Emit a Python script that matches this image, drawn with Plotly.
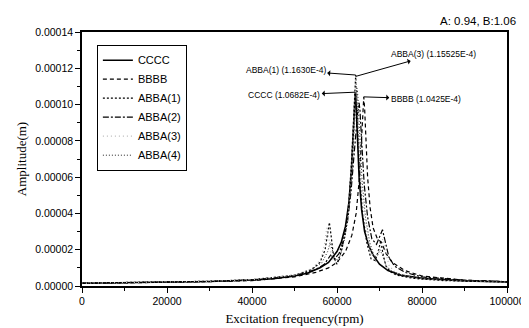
import plotly.graph_objects as go

SCALE = 1e-5  # amplitudes below are given in units of 1e-5 m

freq_cccc = [0, 10000, 20000, 30000, 40000, 45000, 50000, 53000, 56000, 58000, 60000, 61000, 62000, 62800, 63400, 63800, 64100, 64300, 64500, 64800, 65200, 65800, 66500, 67500, 68500, 70000, 72000, 75000, 80000, 90000, 100000]
amp_cccc = [0.15, 0.17, 0.2, 0.25, 0.33, 0.4, 0.55, 0.7, 1.0, 1.3, 1.9, 2.4, 3.3, 4.6, 6.4, 8.4, 10.0, 10.682, 10.0, 8.2, 6.0, 4.2, 3.0, 2.2, 1.7, 1.2, 0.85, 0.6, 0.42, 0.28, 0.22]

freq_bbbb = [0, 10000, 20000, 30000, 40000, 50000, 55000, 58000, 60000, 62000, 63500, 64500, 65300, 65800, 66100, 66300, 66500, 66800, 67200, 67800, 68500, 69500, 70500, 71500, 73000, 76000, 80000, 90000, 100000]
amp_bbbb = [0.14, 0.16, 0.19, 0.24, 0.3, 0.5, 0.75, 1.0, 1.3, 1.9, 2.8, 4.0, 6.0, 8.0, 9.6, 10.425, 9.8, 8.0, 6.0, 4.3, 3.2, 2.6, 2.4, 1.8, 1.3, 0.85, 0.55, 0.32, 0.24]

freq_abba1 = [0, 10000, 20000, 30000, 40000, 50000, 54000, 56000, 57200, 57800, 58200, 58600, 59200, 60000, 61000, 62000, 62800, 63400, 63900, 64200, 64400, 64600, 64900, 65400, 66000, 67000, 68000, 69000, 69800, 70300, 70800, 71500, 72500, 74000, 78000, 85000, 100000]
amp_abba1 = [0.16, 0.18, 0.21, 0.26, 0.35, 0.6, 0.9, 1.3, 2.0, 2.9, 3.5, 2.8, 1.6, 1.2, 1.9, 3.0, 4.6, 6.8, 9.3, 11.0, 11.63, 10.8, 8.6, 6.0, 4.0, 2.4, 1.5, 1.4, 2.0, 2.5, 1.8, 1.1, 0.8, 0.6, 0.42, 0.3, 0.22]

freq_abba2 = [0, 10000, 20000, 30000, 40000, 50000, 55000, 57000, 58500, 59500, 60500, 61500, 62500, 63300, 64000, 64600, 65000, 65200, 65400, 65800, 66400, 67200, 68200, 69300, 70200, 70700, 71300, 72200, 73500, 76000, 80000, 90000, 100000]
amp_abba2 = [0.15, 0.17, 0.2, 0.25, 0.32, 0.55, 0.9, 1.2, 1.7, 1.5, 1.8, 2.5, 3.6, 5.2, 7.2, 9.0, 9.9, 10.1, 9.7, 8.0, 5.6, 3.8, 2.6, 2.3, 2.8, 3.1, 2.5, 1.6, 1.1, 0.75, 0.5, 0.32, 0.24]

freq_abba3 = [0, 10000, 20000, 30000, 40000, 50000, 54000, 56000, 57000, 57600, 58100, 58700, 59500, 60500, 61500, 62500, 63200, 63800, 64200, 64400, 64600, 65000, 65600, 66300, 67200, 68300, 69400, 70200, 70800, 71400, 72300, 74000, 78000, 85000, 100000]
amp_abba3 = [0.16, 0.18, 0.21, 0.26, 0.35, 0.6, 0.95, 1.4, 2.2, 3.2, 2.6, 1.6, 1.3, 1.5, 2.3, 3.6, 5.5, 8.0, 10.5, 11.5525, 11.0, 8.8, 6.0, 4.0, 2.6, 1.7, 1.6, 2.2, 2.6, 1.9, 1.1, 0.7, 0.45, 0.3, 0.22]

freq_abba4 = [0, 10000, 20000, 30000, 40000, 50000, 54000, 56500, 57800, 58400, 59000, 59800, 60800, 61800, 62700, 63500, 64100, 64500, 64700, 64900, 65300, 65900, 66700, 67700, 68800, 69600, 70100, 70700, 71600, 73000, 76000, 82000, 100000]
amp_abba4 = [0.15, 0.17, 0.2, 0.25, 0.34, 0.58, 0.9, 1.3, 1.9, 2.4, 1.9, 1.4, 1.7, 2.6, 4.0, 6.2, 8.8, 10.4, 10.9, 10.5, 8.6, 5.8, 3.8, 2.4, 1.6, 1.7, 2.0, 1.7, 1.1, 0.8, 0.55, 0.38, 0.22]

series_names = ["CCCC", "BBBB", "ABBA(1)", "ABBA(2)", "ABBA(3)", "ABBA(4)"]
series_x = [freq_cccc, freq_bbbb, freq_abba1, freq_abba2, freq_abba3, freq_abba4]
series_y = [amp_cccc, amp_bbbb, amp_abba1, amp_abba2, amp_abba3, amp_abba4]
series_style = [
    dict(color="black", width=1.6, dash="solid"),
    dict(color="black", width=1.2, dash="4px,3px"),
    dict(color="black", width=1.2, dash="2px,2px"),
    dict(color="black", width=1.2, dash="6px,2px,2px,2px"),
    dict(color="#b8b8b8", width=1.2, dash="1px,3px"),
    dict(color="#222222", width=1.0, dash="1px,2px"),
]

# annotation labels: (text, peak freq, peak amp [1e-5], ax, ay)
ann_labels = [
    ("ABBA(1) (1.1630E-4)", 64400, 11.63, -70, -5),
    ("ABBA(3) (1.15525E-4)", 64400, 11.5525, 78, -22),
    ("CCCC (1.0682E-4)", 64300, 10.682, -71, 3),
    ("BBBB (1.0425E-4)", 66300, 10.425, 62, 2),
]

fig = go.Figure()
for name, xs, ys, st in zip(series_names, series_x, series_y, series_style):
    fig.add_trace(go.Scatter(x=xs, y=[v * SCALE for v in ys], mode="lines",
                             name=name, line=st))

tick_font = dict(family="Arial, Liberation Sans", size=10.5, color="black")
title_font = dict(family="Times New Roman, Liberation Serif", size=13, color="black")

for text, fx, fy, ax, ay in ann_labels:
    fig.add_annotation(x=fx, y=fy * SCALE, text=text, showarrow=True,
                       arrowside="start", arrowhead=2, arrowsize=1, arrowwidth=1,
                       arrowcolor="black", ax=ax, ay=ay,
                       font=dict(family="Arial, Liberation Sans", size=8.5, color="black"))

fig.add_annotation(x=1.025, y=1.042, xref="paper", yref="paper", showarrow=False,
                   text="A: 0.94, B:1.06", xanchor="right", yanchor="middle",
                   font=dict(family="Arial, Liberation Sans", size=11.5, color="black"))

fig.update_layout(
    width=529, height=328,
    margin=dict(l=72, r=18, t=24, b=43),
    paper_bgcolor="white", plot_bgcolor="white",
    showlegend=True,
    legend=dict(x=0.035, y=0.95, xanchor="left", yanchor="top",
                bordercolor="black", borderwidth=1, bgcolor="white",
                font=dict(family="Arial, Liberation Sans", size=11, color="black"),
                tracegroupgap=0, itemwidth=30),
)
fig.update_xaxes(
    range=[0, 100000], tickmode="linear", tick0=0, dtick=20000, tickformat="d",
    ticks="outside", ticklen=5, tickwidth=1, tickcolor="black",
    minor=dict(ticks="outside", ticklen=3, dtick=10000, tickcolor="black"),
    showline=True, linecolor="black", linewidth=1.5, mirror=True,
    showgrid=False, zeroline=False, tickfont=tick_font,
    title=dict(text="Excitation frequency(rpm)", font=title_font, standoff=8),
)
fig.update_yaxes(
    range=[0, 0.00014], tickmode="linear", tick0=0, dtick=0.00002, tickformat=".5f",
    ticks="outside", ticklen=5, tickwidth=1, tickcolor="black",
    minor=dict(ticks="outside", ticklen=3, dtick=0.00001, tickcolor="black"),
    showline=True, linecolor="black", linewidth=1.5, mirror=True,
    showgrid=False, zeroline=False, tickfont=tick_font,
    title=dict(text="Amplitude(m)", font=title_font, standoff=6),
)

fig.write_html("out.html")
